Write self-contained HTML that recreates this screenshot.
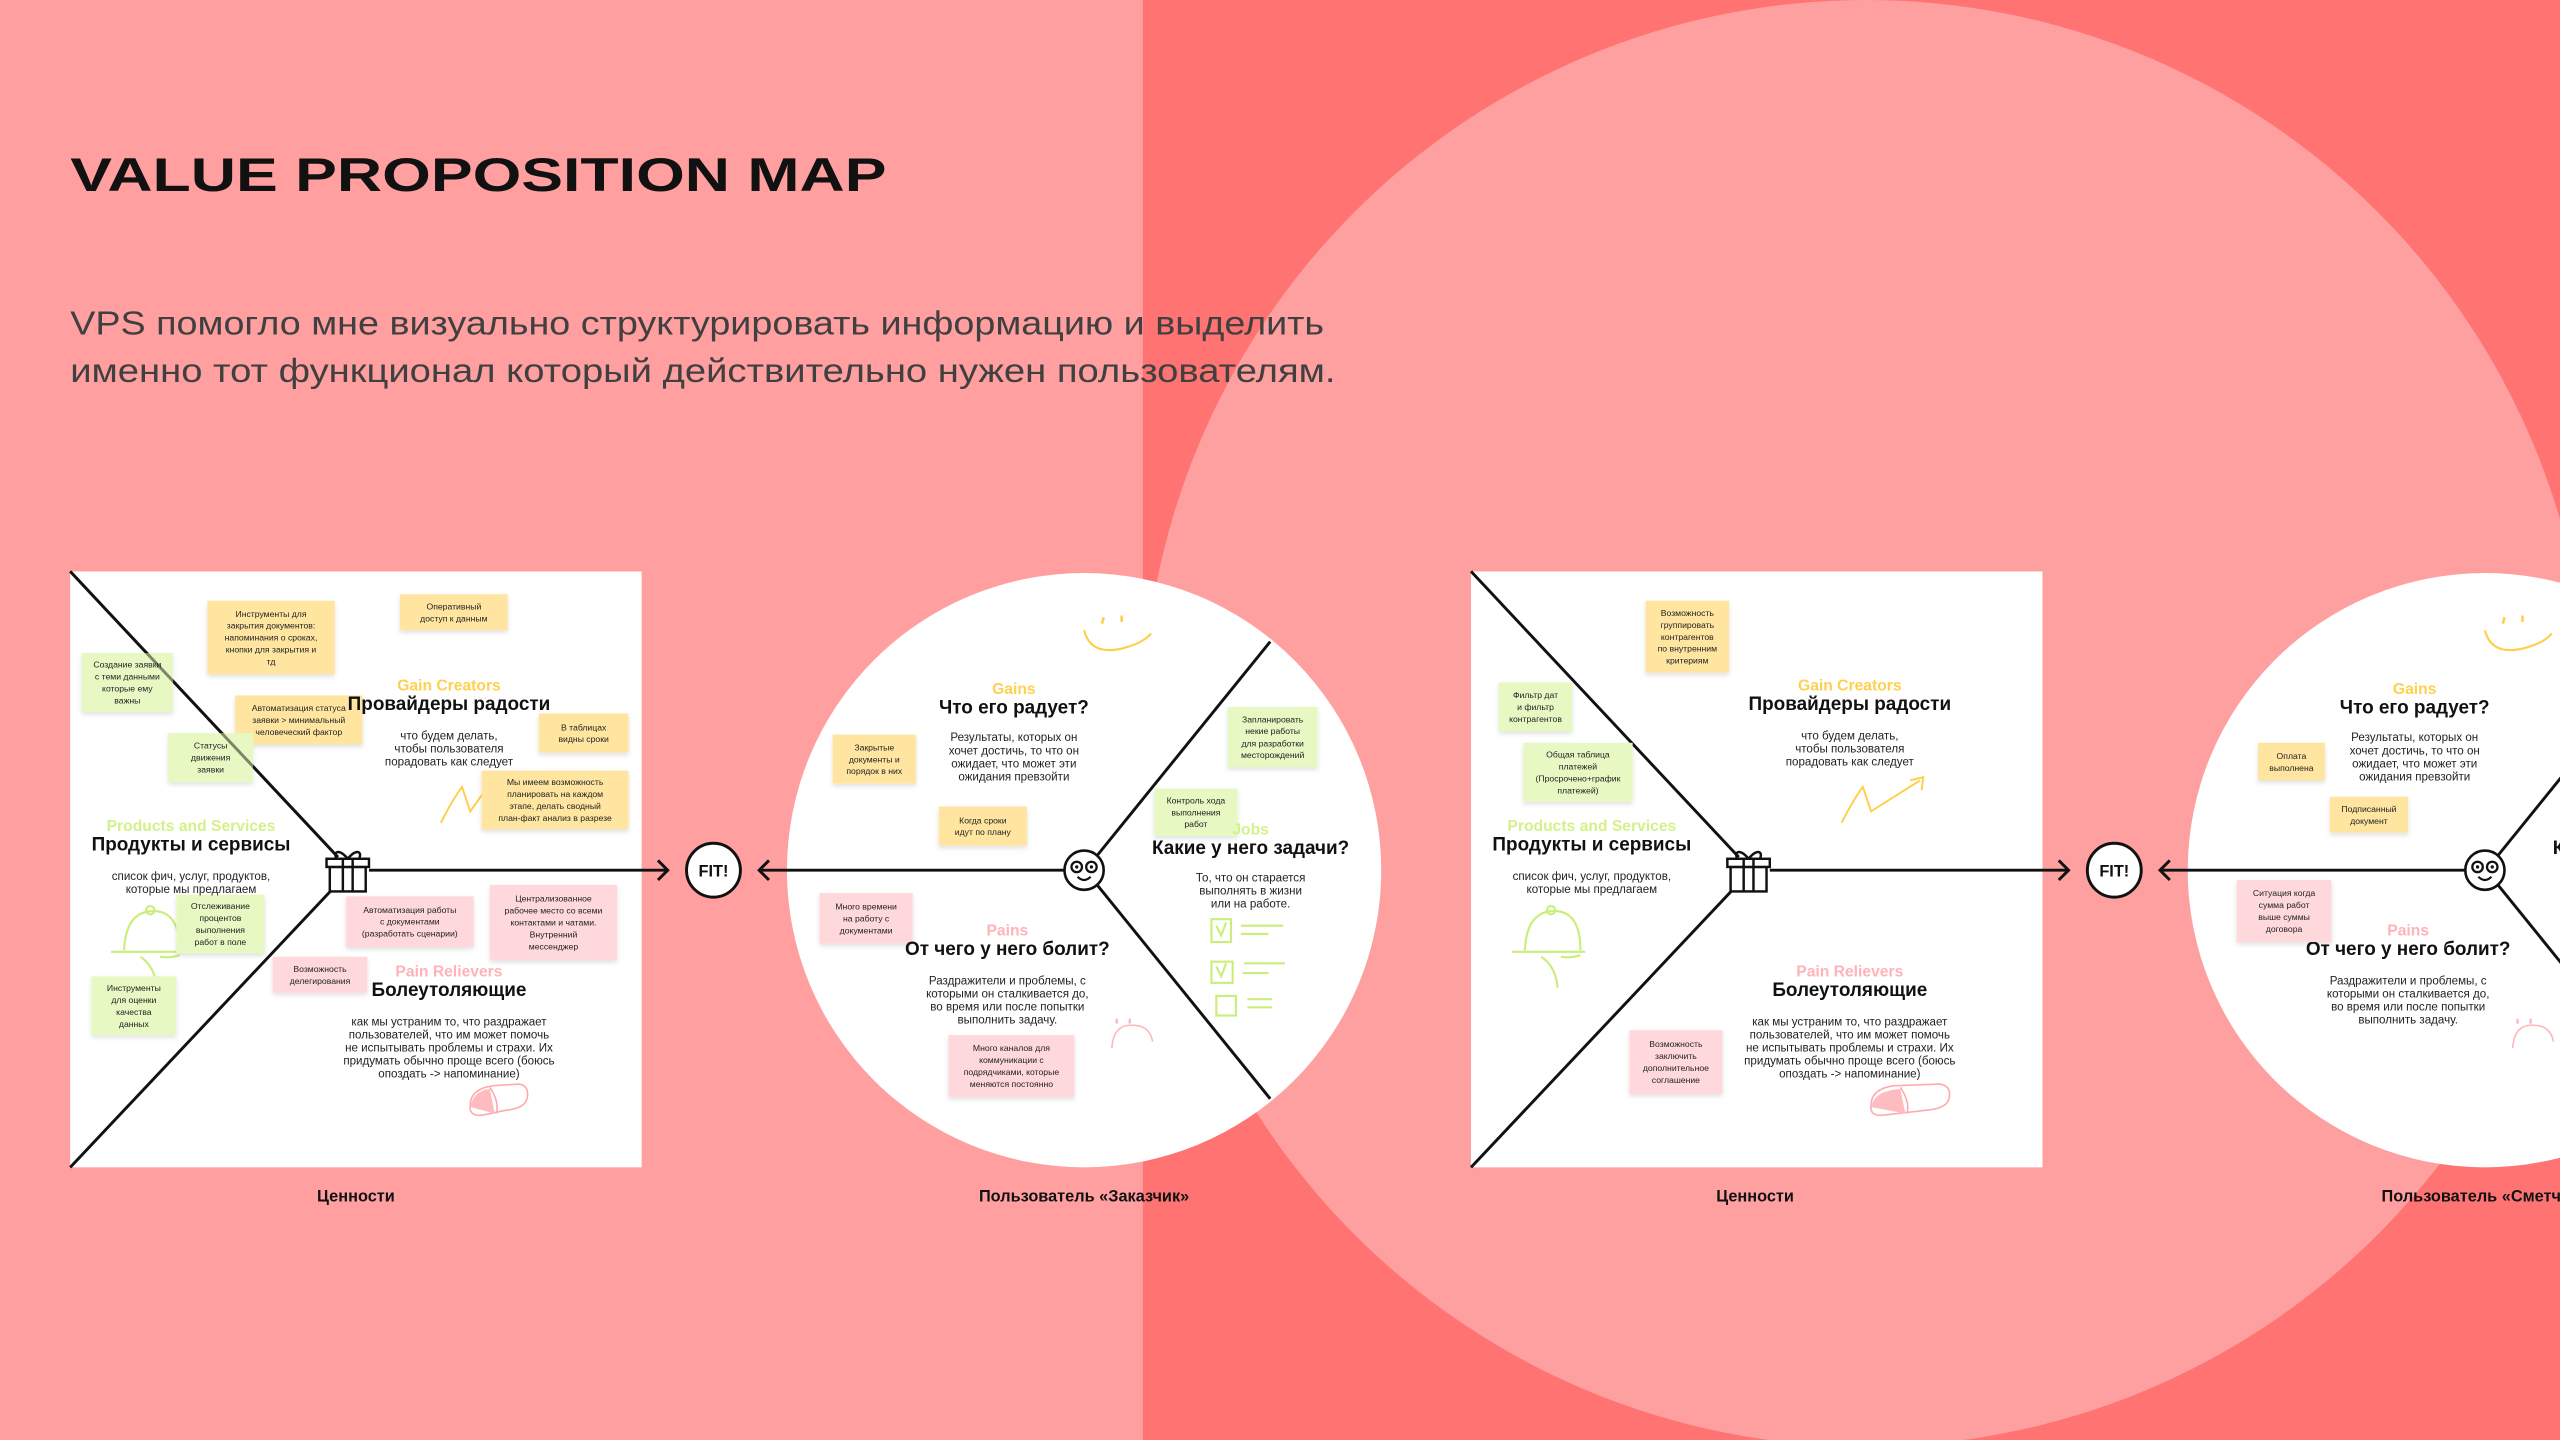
<!DOCTYPE html>
<html><head><meta charset="utf-8"><style>
html,body{margin:0;padding:0;width:2560px;height:1440px;overflow:hidden;background:#ff9f9f}
svg{display:block}
text{font-family:"Liberation Sans","DejaVu Sans",sans-serif}
.s{font-size:5.3px;fill:#222;text-anchor:middle}
.lab{font-size:9.6px;font-weight:bold;text-anchor:middle}
.tt{font-size:11.6px;font-weight:bold;fill:#111;text-anchor:middle}
.d{font-size:7.1px;fill:#222;text-anchor:middle}
.cap{font-size:10px;font-weight:bold;fill:#111;text-anchor:middle}
.ln{stroke:#111;stroke-width:1.8;fill:none}
.y{fill:#ffe5a0}.g{fill:#e7f8c3}.p{fill:#ffd8dc}
</style></head><body>
<svg width="2560" height="1440" viewBox="0 0 1568 882" xmlns="http://www.w3.org/2000/svg">
<defs>
<filter id="sh" x="-20%" y="-20%" width="140%" height="160%"><feDropShadow dx="0" dy="1.5" stdDeviation="1.5" flood-color="#000" flood-opacity="0.12"/></filter>
</defs>
<rect x="0" y="0" width="700" height="882" fill="#ff9f9f"/>
<rect x="700" y="0" width="868" height="882" fill="#ff7373"/>
<circle cx="1143" cy="443" r="443" fill="#ffa0a0"/>

<text x="43" y="117" font-size="29" font-weight="bold" fill="#111" textLength="500" lengthAdjust="spacingAndGlyphs">VALUE PROPOSITION MAP</text>
<text x="43" y="205" font-size="20.5" fill="#404040" textLength="768" lengthAdjust="spacingAndGlyphs">VPS помогло мне визуально структурировать информацию и выделить</text>
<text x="43" y="234" font-size="20.5" fill="#404040" textLength="775" lengthAdjust="spacingAndGlyphs">именно тот функционал который действительно нужен пользователям.</text>

<!-- ===== SET 1 ===== -->
<g id="set1">
<rect x="43" y="350" width="350" height="365" fill="#fff"/>
<circle cx="664" cy="533" r="182" fill="#fff"/>
<line class="ln" x1="43" y1="350" x2="207" y2="525"/>
<line class="ln" x1="207" y1="541" x2="43" y2="715"/>
<line class="ln" x1="226" y1="533" x2="409" y2="533"/>
<polyline class="ln" points="403,527 409,533 403,539"/>
<circle cx="437" cy="533" r="16.5" fill="#fff" stroke="#111" stroke-width="1.8"/>
<text x="437" y="537" font-size="10" font-weight="bold" text-anchor="middle" fill="#111">FIT!</text>
<line class="ln" x1="652" y1="533" x2="465" y2="533"/>
<polyline class="ln" points="471,527 465,533 471,539"/>
<line class="ln" x1="672" y1="524" x2="778" y2="393"/>
<line class="ln" x1="672" y1="542" x2="778" y2="673"/>
<!-- gift -->
<g stroke="#111" stroke-width="1.5" fill="#fff">
<rect x="202" y="531" width="22" height="15"/>
<rect x="200" y="526" width="26" height="5"/>
<line x1="210" y1="526" x2="210" y2="546"/><line x1="216" y1="526" x2="216" y2="546"/>
<path d="M213 526 C208 520 204 521 206 526 M213 526 C218 520 222 521 220 526" fill="none"/>
</g>
<!-- face -->
<circle cx="664" cy="533" r="12" fill="#fff" stroke="#111" stroke-width="1.6"/>
<circle cx="659.5" cy="531" r="3.2" fill="none" stroke="#111" stroke-width="1.4"/>
<circle cx="668.5" cy="531" r="3.2" fill="none" stroke="#111" stroke-width="1.4"/>
<circle cx="659.5" cy="531" r="1" fill="#111"/><circle cx="668.5" cy="531" r="1" fill="#111"/>
<path d="M660 537 Q664 541 668 537" stroke="#111" stroke-width="1.3" fill="none"/>

<!-- doodles -->
<path d="M664 386 Q668 402 688 397 Q700 394 705 388" stroke="#ffce4a" stroke-width="1.3" fill="none"/>
<path d="M676 378 l-1 4 M687 377 l0 4" stroke="#ffce4a" stroke-width="1.6"/>
<path d="M681 642 Q682 627 694 628 Q704 628 706 638" stroke="#ffb8bd" stroke-width="1" fill="none"/>
<path d="M684 624 l0 3 M692 624 l0 3" stroke="#ffb8bd" stroke-width="1.5"/>
<path d="M270 504 Q277 490 283 482 L288 497 L300 480 M296 479 L302 477 L301 482" stroke="#ffce4a" stroke-width="1.2" fill="none"/>
<path d="M288 677 Q288 667 302 665 L318 664 Q324 665 323 672 Q322 679 310 680 L296 683 Q287 684 288 677 Z M300 666 Q306 675 304 682" stroke="#ffaab0" stroke-width="1" fill="none"/>
<path d="M288 678 Q290 668 300 667 L303 682 Z" fill="#ffbcc0"/>
<g stroke="#c9ee7a" stroke-width="1.3" fill="none">
<rect x="742" y="563" width="12" height="14"/><path d="M745 567 l3 6 l3 -8"/>
<path d="M760 567 h26 M760 572 h17"/>
<rect x="742" y="589" width="13" height="13"/><path d="M745 592 l3 6 l3 -8"/>
<path d="M762 590 h25 M761 596 h16"/>
<rect x="745" y="610" width="12" height="12"/><path d="M764 612 h15 M764 617 h15"/>
<path d="M76 582 Q77 558 94 558 Q110 558 110 582 M68 583 h45 M92 555 a2.5 2.5 0 1 0 0.1 0 M86 586 Q95 592 96 605 M98 586 Q104 587 110 585"/>
</g>
</g>

<!-- set1 stickies -->
<g filter="url(#sh)">
<rect class="y" x="127" y="368" width="78" height="45"/>
<rect class="y" x="245" y="364" width="66" height="22"/>
<rect class="y" x="144" y="426" width="78" height="30"/>
<rect class="y" x="330" y="437" width="55" height="24"/>
<rect class="y" x="295" y="472" width="90" height="36"/>
<rect class="g" x="50" y="400" width="56" height="36"/>
<rect class="g" x="103" y="449" width="52" height="30"/>
<rect class="g" x="108" y="548" width="54" height="36"/>
<rect class="g" x="56" y="598" width="52" height="36"/>
<rect class="p" x="212" y="549" width="78" height="31"/>
<rect class="p" x="300" y="542" width="78" height="46"/>
<rect class="p" x="167" y="586" width="58" height="22"/>
<rect class="y" x="510" y="450" width="51" height="30"/>
<rect class="y" x="575" y="494" width="54" height="24"/>
<rect class="g" x="752" y="433" width="55" height="37"/>
<rect class="g" x="707" y="483" width="51" height="29"/>
<rect class="p" x="502" y="547" width="57" height="31"/>
<rect class="p" x="581" y="634" width="77" height="38"/>
</g>
<line class="ln" x1="43" y1="350" x2="207" y2="525" stroke-opacity="0.5"/>
<g class="s">
<text x="166" y="377.8">Инструменты для</text><text x="166" y="385.1">закрытия документов:</text><text x="166" y="392.4">напоминания о сроках,</text><text x="166" y="399.7">кнопки для закрытия и</text><text x="166" y="407">тд</text>
<text x="278" y="373.3">Оперативный</text><text x="278" y="380.6">доступ к данным</text>
<text x="78" y="408.9">Создание заявки</text><text x="78" y="416.2">с теми данными</text><text x="78" y="423.6">которые ему</text><text x="78" y="430.9">важны</text>
<text x="183" y="435.6">Автоматизация статуса</text><text x="183" y="442.9">заявки &gt; минимальный</text><text x="183" y="450.2">человеческий фактор</text>
<text x="129" y="458.6">Статусы</text><text x="129" y="465.9">движения</text><text x="129" y="473.2">заявки</text>
<text x="357.5" y="447.3">В таблицах</text><text x="357.5" y="454.6">видны сроки</text>
<text x="340" y="480.9">Мы имеем возможность</text><text x="340" y="488.2">планировать на каждом</text><text x="340" y="495.6">этапе, делать сводный</text><text x="340" y="502.9">план-факт анализ в разрезе</text>
<text x="135" y="556.9">Отслеживание</text><text x="135" y="564.2">процентов</text><text x="135" y="571.6">выполнения</text><text x="135" y="578.9">работ в поле</text>
<text x="82" y="606.9">Инструменты</text><text x="82" y="614.2">для оценки</text><text x="82" y="621.6">качества</text><text x="82" y="628.9">данных</text>
<text x="251" y="559.1">Автоматизация работы</text><text x="251" y="566.4">с документами</text><text x="251" y="573.7">(разработать сценарии)</text>
<text x="339" y="552.3">Централизованное</text><text x="339" y="559.6">рабочее место со всеми</text><text x="339" y="566.9">контактами и чатами.</text><text x="339" y="574.2">Внутренний</text><text x="339" y="581.5">мессенджер</text>
<text x="196" y="595.3">Возможность</text><text x="196" y="602.6">делегирования</text>
<text x="535.5" y="459.6">Закрытые</text><text x="535.5" y="466.9">документы и</text><text x="535.5" y="474.2">порядок в них</text>
<text x="602" y="504.3">Когда сроки</text><text x="602" y="511.6">идут по плану</text>
<text x="779.5" y="442.4">Запланировать</text><text x="779.5" y="449.7">некие работы</text><text x="779.5" y="457.1">для разработки</text><text x="779.5" y="464.4">месторождений</text>
<text x="732.5" y="492.1">Контроль хода</text><text x="732.5" y="499.4">выполнения</text><text x="732.5" y="506.7">работ</text>
<text x="530.5" y="557.1">Много времени</text><text x="530.5" y="564.4">на работу с</text><text x="530.5" y="571.7">документами</text>
<text x="619.5" y="643.9">Много каналов для</text><text x="619.5" y="651.2">коммуникации с</text><text x="619.5" y="658.6">подрядчиками, которые</text><text x="619.5" y="665.9">меняются постоянно</text>
</g>

<!-- set1 headings -->
<text class="lab" x="275" y="423" fill="#ffd04d">Gain Creators</text>
<text class="tt" x="275" y="435">Провайдеры радости</text>
<text class="d" x="275" y="453">что будем делать,</text><text class="d" x="275" y="461">чтобы пользователя</text><text class="d" x="275" y="469">порадовать как следует</text>
<text class="lab" x="117" y="509" fill="#d3f18a">Products and Services</text>
<text class="tt" x="117" y="521">Продукты и сервисы</text>
<text class="d" x="117" y="539">список фич, услуг, продуктов,</text><text class="d" x="117" y="547">которые мы предлагаем</text>
<text class="lab" x="275" y="598" fill="#ffb3b8">Pain Relievers</text>
<text class="tt" x="275" y="610">Болеутоляющие</text>
<text class="d" x="275" y="628">как мы устраним то, что раздражает</text><text class="d" x="275" y="636">пользователей, что им может помочь</text><text class="d" x="275" y="644">не испытывать проблемы и страхи. Их</text><text class="d" x="275" y="652">придумать обычно проще всего (боюсь</text><text class="d" x="275" y="660">опоздать -&gt; напоминание)</text>
<text class="lab" x="621" y="425" fill="#ffd04d">Gains</text>
<text class="tt" x="621" y="437">Что его радует?</text>
<text class="d" x="621" y="454">Результаты, которых он</text><text class="d" x="621" y="462">хочет достичь, то что он</text><text class="d" x="621" y="470">ожидает, что может эти</text><text class="d" x="621" y="478">ожидания превзойти</text>
<text class="lab" x="766" y="511" fill="#d3f18a">Jobs</text>
<text class="tt" x="766" y="523">Какие у него задачи?</text>
<text class="d" x="766" y="540">То, что он старается</text><text class="d" x="766" y="548">выполнять в жизни</text><text class="d" x="766" y="556">или на работе.</text>
<text class="lab" x="617" y="573" fill="#ffb3b8">Pains</text>
<text class="tt" x="617" y="585">От чего у него болит?</text>
<text class="d" x="617" y="603">Раздражители и проблемы, с</text><text class="d" x="617" y="611">которыми он сталкивается до,</text><text class="d" x="617" y="619">во время или после попытки</text><text class="d" x="617" y="627">выполнить задачу.</text>
<text class="cap" x="218" y="736">Ценности</text>
<text class="cap" x="664" y="736">Пользователь «Заказчик»</text>

<!-- ===== SET 2 ===== -->
<g transform="translate(858,0)">
<rect x="43" y="350" width="350" height="365" fill="#fff"/>
<circle cx="664" cy="533" r="182" fill="#fff"/>
<line class="ln" x1="43" y1="350" x2="207" y2="525"/>
<line class="ln" x1="207" y1="541" x2="43" y2="715"/>
<line class="ln" x1="226" y1="533" x2="409" y2="533"/>
<polyline class="ln" points="403,527 409,533 403,539"/>
<circle cx="437" cy="533" r="16.5" fill="#fff" stroke="#111" stroke-width="1.8"/>
<text x="437" y="537" font-size="10" font-weight="bold" text-anchor="middle" fill="#111">FIT!</text>
<line class="ln" x1="652" y1="533" x2="465" y2="533"/>
<polyline class="ln" points="471,527 465,533 471,539"/>
<line class="ln" x1="672" y1="524" x2="778" y2="393"/>
<line class="ln" x1="672" y1="542" x2="778" y2="673"/>
<g stroke="#111" stroke-width="1.5" fill="#fff">
<rect x="202" y="531" width="22" height="15"/>
<rect x="200" y="526" width="26" height="5"/>
<line x1="210" y1="526" x2="210" y2="546"/><line x1="216" y1="526" x2="216" y2="546"/>
<path d="M213 526 C208 520 204 521 206 526 M213 526 C218 520 222 521 220 526" fill="none"/>
</g>
<circle cx="664" cy="533" r="12" fill="#fff" stroke="#111" stroke-width="1.6"/>
<circle cx="659.5" cy="531" r="3.2" fill="none" stroke="#111" stroke-width="1.4"/>
<circle cx="668.5" cy="531" r="3.2" fill="none" stroke="#111" stroke-width="1.4"/>
<circle cx="659.5" cy="531" r="1" fill="#111"/><circle cx="668.5" cy="531" r="1" fill="#111"/>
<path d="M660 537 Q664 541 668 537" stroke="#111" stroke-width="1.3" fill="none"/>
<path d="M664 386 Q668 402 688 397 Q700 394 705 388" stroke="#ffce4a" stroke-width="1.3" fill="none"/>
<path d="M676 378 l-1 4 M687 377 l0 4" stroke="#ffce4a" stroke-width="1.6"/>
<path d="M681 642 Q682 627 694 628 Q704 628 706 638" stroke="#ffb8bd" stroke-width="1" fill="none"/>
<path d="M684 624 l0 3 M692 624 l0 3" stroke="#ffb8bd" stroke-width="1.5"/>
<path d="M270 504 Q277 490 283 482 L288 497 L318 478 M312 478 L320 476 L319 484" stroke="#ffce4a" stroke-width="1.2" fill="none"/>
<path d="M288 677 Q288 667 302 665 L330 664 Q337 665 336 672 Q335 679 322 680 L296 683 Q287 684 288 677 Z M306 666 Q312 675 310 682" stroke="#ffaab0" stroke-width="1" fill="none"/>
<path d="M288 678 Q290 668 306 667 L309 682 Z" fill="#ffbcc0"/>
<g stroke="#c9ee7a" stroke-width="1.3" fill="none">
<path d="M76 582 Q77 558 94 558 Q110 558 110 582 M68 583 h45 M92 555 a2.5 2.5 0 1 0 0.1 0 M86 586 Q95 592 96 605 M98 586 Q104 587 110 585"/>
</g>
<text class="lab" x="275" y="423" fill="#ffd04d">Gain Creators</text>
<text class="tt" x="275" y="435">Провайдеры радости</text>
<text class="d" x="275" y="453">что будем делать,</text><text class="d" x="275" y="461">чтобы пользователя</text><text class="d" x="275" y="469">порадовать как следует</text>
<text class="lab" x="117" y="509" fill="#d3f18a">Products and Services</text>
<text class="tt" x="117" y="521">Продукты и сервисы</text>
<text class="d" x="117" y="539">список фич, услуг, продуктов,</text><text class="d" x="117" y="547">которые мы предлагаем</text>
<text class="lab" x="275" y="598" fill="#ffb3b8">Pain Relievers</text>
<text class="tt" x="275" y="610">Болеутоляющие</text>
<text class="d" x="275" y="628">как мы устраним то, что раздражает</text><text class="d" x="275" y="636">пользователей, что им может помочь</text><text class="d" x="275" y="644">не испытывать проблемы и страхи. Их</text><text class="d" x="275" y="652">придумать обычно проще всего (боюсь</text><text class="d" x="275" y="660">опоздать -&gt; напоминание)</text>
<text class="lab" x="621" y="425" fill="#ffd04d">Gains</text>
<text class="tt" x="621" y="437">Что его радует?</text>
<text class="d" x="621" y="454">Результаты, которых он</text><text class="d" x="621" y="462">хочет достичь, то что он</text><text class="d" x="621" y="470">ожидает, что может эти</text><text class="d" x="621" y="478">ожидания превзойти</text>
<text class="tt" x="766" y="523">Какие у него задачи?</text>
<text class="lab" x="617" y="573" fill="#ffb3b8">Pains</text>
<text class="tt" x="617" y="585">От чего у него болит?</text>
<text class="d" x="617" y="603">Раздражители и проблемы, с</text><text class="d" x="617" y="611">которыми он сталкивается до,</text><text class="d" x="617" y="619">во время или после попытки</text><text class="d" x="617" y="627">выполнить задачу.</text>
<text class="cap" x="217" y="736">Ценности</text>
<text class="cap" x="664" y="736">Пользователь «Сметчик»</text>
</g>

<g filter="url(#sh)">
<rect class="y" x="1008" y="368" width="51" height="44"/>
<rect class="g" x="918" y="418" width="45" height="30"/>
<rect class="g" x="933" y="455" width="67" height="36"/>
<rect class="p" x="998" y="631" width="57" height="39"/>
<rect class="y" x="1383" y="455" width="41" height="23"/>
<rect class="y" x="1427" y="488" width="48" height="22"/>
<rect class="p" x="1370" y="539" width="58" height="38"/>
</g>
<g class="s">
<text x="1033.5" y="377.3">Возможность</text><text x="1033.5" y="384.6">группировать</text><text x="1033.5" y="391.9">контрагентов</text><text x="1033.5" y="399.2">по внутренним</text><text x="1033.5" y="406.5">критериям</text>
<text x="940.5" y="427.6">Фильтр дат</text><text x="940.5" y="434.9">и фильтр</text><text x="940.5" y="442.2">контрагентов</text>
<text x="966.5" y="463.9">Общая таблица</text><text x="966.5" y="471.2">платежей</text><text x="966.5" y="478.6">(Просрочено+график</text><text x="966.5" y="485.9">платежей)</text>
<text x="1026.5" y="641.4">Возможность</text><text x="1026.5" y="648.7">заключить</text><text x="1026.5" y="656.1">дополнительное</text><text x="1026.5" y="663.4">соглашение</text>
<text x="1403.5" y="464.8">Оплата</text><text x="1403.5" y="472.1">выполнена</text>
<text x="1451" y="497.3">Подписанный</text><text x="1451" y="504.6">документ</text>
<text x="1399" y="548.9">Ситуация когда</text><text x="1399" y="556.2">сумма работ</text><text x="1399" y="563.6">выше суммы</text><text x="1399" y="570.9">договора</text>
</g>
</svg>
</body></html>
